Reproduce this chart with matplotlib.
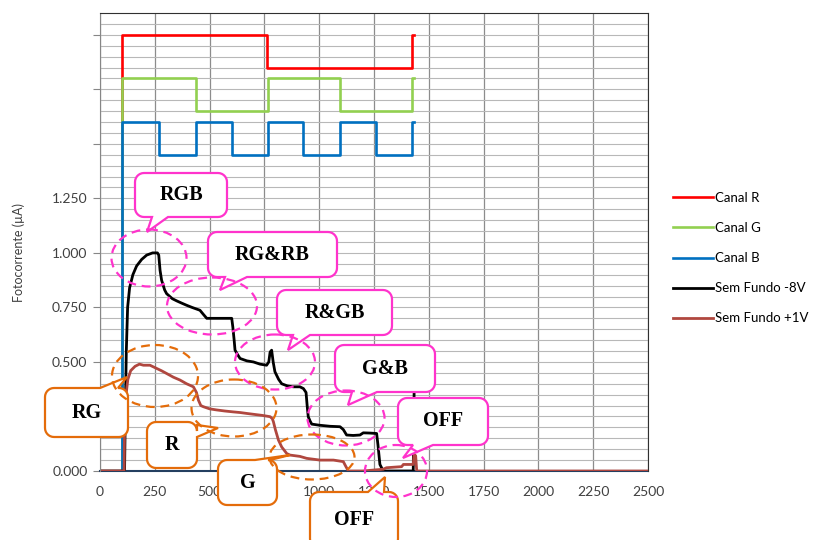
import numpy as np
import matplotlib
matplotlib.use('Agg')
import matplotlib.pyplot as plt
import matplotlib.transforms as mtransforms
from matplotlib.patches import Polygon, Ellipse

# channel drive signals (step data: time, level)
canal_r_t = [0, 100, 762, 1423, 1432]
canal_r_v = [0, 2.0, 1.85, 2.0, 2.0]
canal_g_t = [0, 100, 438, 766, 1095, 1423, 1432]
canal_g_v = [0, 1.8, 1.65, 1.8, 1.65, 1.8, 1.8]
canal_b_t = [0, 100, 270, 438, 602, 766, 926, 1095, 1259, 1423, 1432]
canal_b_v = [0, 1.6, 1.45, 1.6, 1.45, 1.6, 1.45, 1.6, 1.45, 1.6, 1.6]

# photocurrent, -8V bias
fundo_8v_t = [0, 112, 116, 120, 126, 135, 150, 167, 190, 213, 240, 262, 268, 274, 281,
              295, 304, 330, 350, 372, 395, 420, 456, 470, 487, 540, 601, 606, 612, 616,
              630, 639, 670, 700, 730, 760, 770, 776, 783, 790, 798, 815, 829, 855, 882,
              912, 928, 940, 945, 950, 958, 966, 1000, 1050, 1095, 1110, 1125, 1155, 1186,
              1201, 1230, 1262, 1268, 1277, 1292, 1350, 1400, 1429, 1434]
fundo_8v_v = [0, 0, 0.30, 0.55, 0.75, 0.84, 0.90, 0.94, 0.97, 0.99, 1.0, 1.0, 0.99, 0.92, 0.875,
              0.83, 0.813, 0.79, 0.78, 0.77, 0.76, 0.75, 0.737, 0.72, 0.70, 0.70, 0.70, 0.66, 0.60, 0.554,
              0.53, 0.516, 0.505, 0.50, 0.49, 0.485, 0.50, 0.545, 0.554, 0.50, 0.455, 0.42, 0.40, 0.39, 0.386,
              0.386, 0.378, 0.36, 0.30, 0.249, 0.23, 0.215, 0.21, 0.205, 0.203, 0.19, 0.165, 0.163, 0.165,
              0.175, 0.174, 0.172, 0.12, 0.03, 0.0, 0.0, 0.0, 0.0, 0.45]

# photocurrent, +1V bias
fundo_1v_t = [0, 110, 112, 115, 120, 127, 140, 160, 180, 198, 228, 259, 280, 304, 335,
              365, 395, 426, 440, 449, 460, 471, 500, 532, 570, 608, 640, 669, 700, 740,
              776, 786, 791, 800, 814, 829, 852, 867, 912, 943, 1004, 1065, 1110, 1122, 1133,
              1200, 1255, 1292, 1307, 1376, 1384, 1429, 1433, 1440, 1445, 2500]
fundo_1v_v = [0, 0, 0.20, 0.30, 0.36, 0.42, 0.46, 0.48, 0.49, 0.485, 0.485, 0.47, 0.46, 0.447, 0.43,
              0.417, 0.40, 0.386, 0.36, 0.325, 0.30, 0.295, 0.285, 0.28, 0.275, 0.271, 0.268, 0.264, 0.26, 0.255,
              0.249, 0.24, 0.226, 0.19, 0.142, 0.11, 0.08, 0.073, 0.067, 0.058, 0.05, 0.05, 0.043, 0.02, 0.0,
              0.0, 0.005, 0.008, 0.015, 0.02, 0.03, 0.03, 0.075, 0.07, 0.0, 0.0]

y_ticks = [0, 0.25, 0.5, 0.75, 1.0, 1.25, 1.5, 1.75, 2.0]
y_labels = ['0.000', '0.250', '0.500', '0.750', '1.000', '1.250', '', '', '']
x_ticks = list(range(0, 2501, 250))

W, H = 818, 540
plt.rcParams['font.family'] = ['Lato', 'DejaVu Sans']
fig = plt.figure(figsize=(W / 100, H / 100), dpi=100)
ax = fig.add_axes([100 / W, (H - 471) / H, 548 / W, 458 / H])

ax.plot(canal_r_t, canal_r_v, drawstyle='steps-post', color='#FF0000', lw=1.9, label='Canal R')
ax.plot(canal_g_t, canal_g_v, drawstyle='steps-post', color='#92D050', lw=1.9, label='Canal G')
ax.plot(canal_b_t, canal_b_v, drawstyle='steps-post', color='#0070C0', lw=1.9, label='Canal B')
ax.plot(fundo_8v_t, fundo_8v_v, color='black', lw=2.0, label='Sem Fundo -8V')
ax.plot(fundo_1v_t, fundo_1v_v, color='#B0473F', lw=2.0, label='Sem Fundo +1V')

ax.set_xlim(0, 2500)
ax.set_ylim(0, 2.1)
ax.set_xticks(x_ticks)
ax.set_yticks(y_ticks)
ax.set_yticklabels(y_labels)
ax.set_yticks(np.arange(0, 2.1, 0.05), minor=True)
ax.tick_params(axis='y', which='major', length=5, color='#868686', labelsize=10,
               labelcolor='#404040', pad=4)
ax.tick_params(axis='y', which='minor', length=0)
ax.tick_params(axis='x', length=0, labelsize=10, labelcolor='#404040', pad=11)
ax.set_axisbelow(True)
ax.grid(True, axis='x', color='#8c8c8c', lw=0.9)
ax.grid(True, axis='y', which='both', color='#b8b8b8', lw=0.8)

ax.spines['left'].set_color('#868686')
ax.spines['bottom'].set_color('#243F60')
ax.spines['bottom'].set_linewidth(1.5)
ax.spines['bottom'].set_zorder(1.8)
ax.spines['top'].set_color('#303030')
ax.spines['right'].set_color('#303030')

ax.set_ylabel('Fotocorrente (µA)', fontsize=9, color='#404040')
ax.yaxis.set_label_coords(-0.137, 0.478)

fig.legend(loc='upper left', bbox_to_anchor=(673 / W, 1 - 192 / H), frameon=False,
           fontsize=9.5, handlelength=3.0, handletextpad=0.2, labelspacing=1.37,
           borderpad=0, borderaxespad=0)

# annotations placed in image pixel coordinates (y down)
pix = mtransforms.Affine2D().scale(1.0 / W, -1.0 / H).translate(0, 1) + fig.transFigure


def arc(cx, cy, r, a0, a1):
    a = np.radians(np.linspace(a0, a1, 8))
    return list(zip(cx + r * np.cos(a), cy + r * np.sin(a)))


def bubble(x0, y0, x1, y1, side, b0, b1, tip, color, text, r=9):
    pts = [(x0 + r, y0)]
    if side == 'top':
        pts += [(b0, y0), tip, (b1, y0)]
    pts += [(x1 - r, y0)] + arc(x1 - r, y0 + r, r, -90, 0)
    if side == 'right':
        pts += [(x1, b0), tip, (x1, b1)]
    pts += arc(x1 - r, y1 - r, r, 0, 90)
    if side == 'bottom':
        pts += [(b1, y1), tip, (b0, y1)]
    pts += arc(x0 + r, y1 - r, r, 90, 180)
    pts += arc(x0 + r, y0 + r, r, 180, 270)
    fig.add_artist(Polygon(pts, closed=True, facecolor='white', edgecolor=color, lw=1.6,
                           transform=pix, zorder=5))
    fig.text((x0 + x1) / 2 / W, 1 - (y0 + y1) / 2 / H, text, ha='center', va='center',
             family='Liberation Serif', weight='bold', fontsize=14.5, zorder=6)


def ring(cx, cy, w, h, color):
    fig.add_artist(Ellipse((cx, cy), w, h, fill=False, edgecolor=color, lw=1.6,
                           linestyle=(0, (4, 2.6)), transform=pix, zorder=7))


pink = '#FF33CC'
orange = '#E46C0A'

ring(149, 258, 75, 57, pink)
ring(212, 306, 90, 57, pink)
ring(275, 362, 80, 55, pink)
ring(346, 418, 77, 55, pink)
ring(396, 471, 62, 52, pink)
ring(155, 376, 86, 62, orange)
ring(234, 408, 85, 57, orange)
ring(312, 457, 85, 45, orange)

bubble(135, 173, 227, 217, 'bottom', 152, 168, (147, 232), pink, 'RGB')
bubble(208, 232, 337, 277, 'bottom', 225, 247, (220, 290), pink, 'RG&RB')
bubble(277, 290, 392, 335, 'bottom', 293, 310, (288, 350), pink, 'R&GB')
bubble(335, 345, 435, 392, 'bottom', 352, 377, (348, 405), pink, 'G&B')
bubble(398, 398, 488, 445, 'bottom', 413, 433, (403, 458), pink, 'OFF')
bubble(45, 388, 128, 437, 'top', 100, 118, (127, 377), orange, 'RG')
bubble(147, 422, 197, 468, 'right', 425, 437, (218, 428), orange, 'R')
bubble(218, 460, 277, 505, 'top', 255, 270, (290, 455), orange, 'G')
bubble(310, 492, 398, 548, 'top', 368, 384, (385, 477), orange, 'OFF')

fig.savefig('out.png', dpi=100)
